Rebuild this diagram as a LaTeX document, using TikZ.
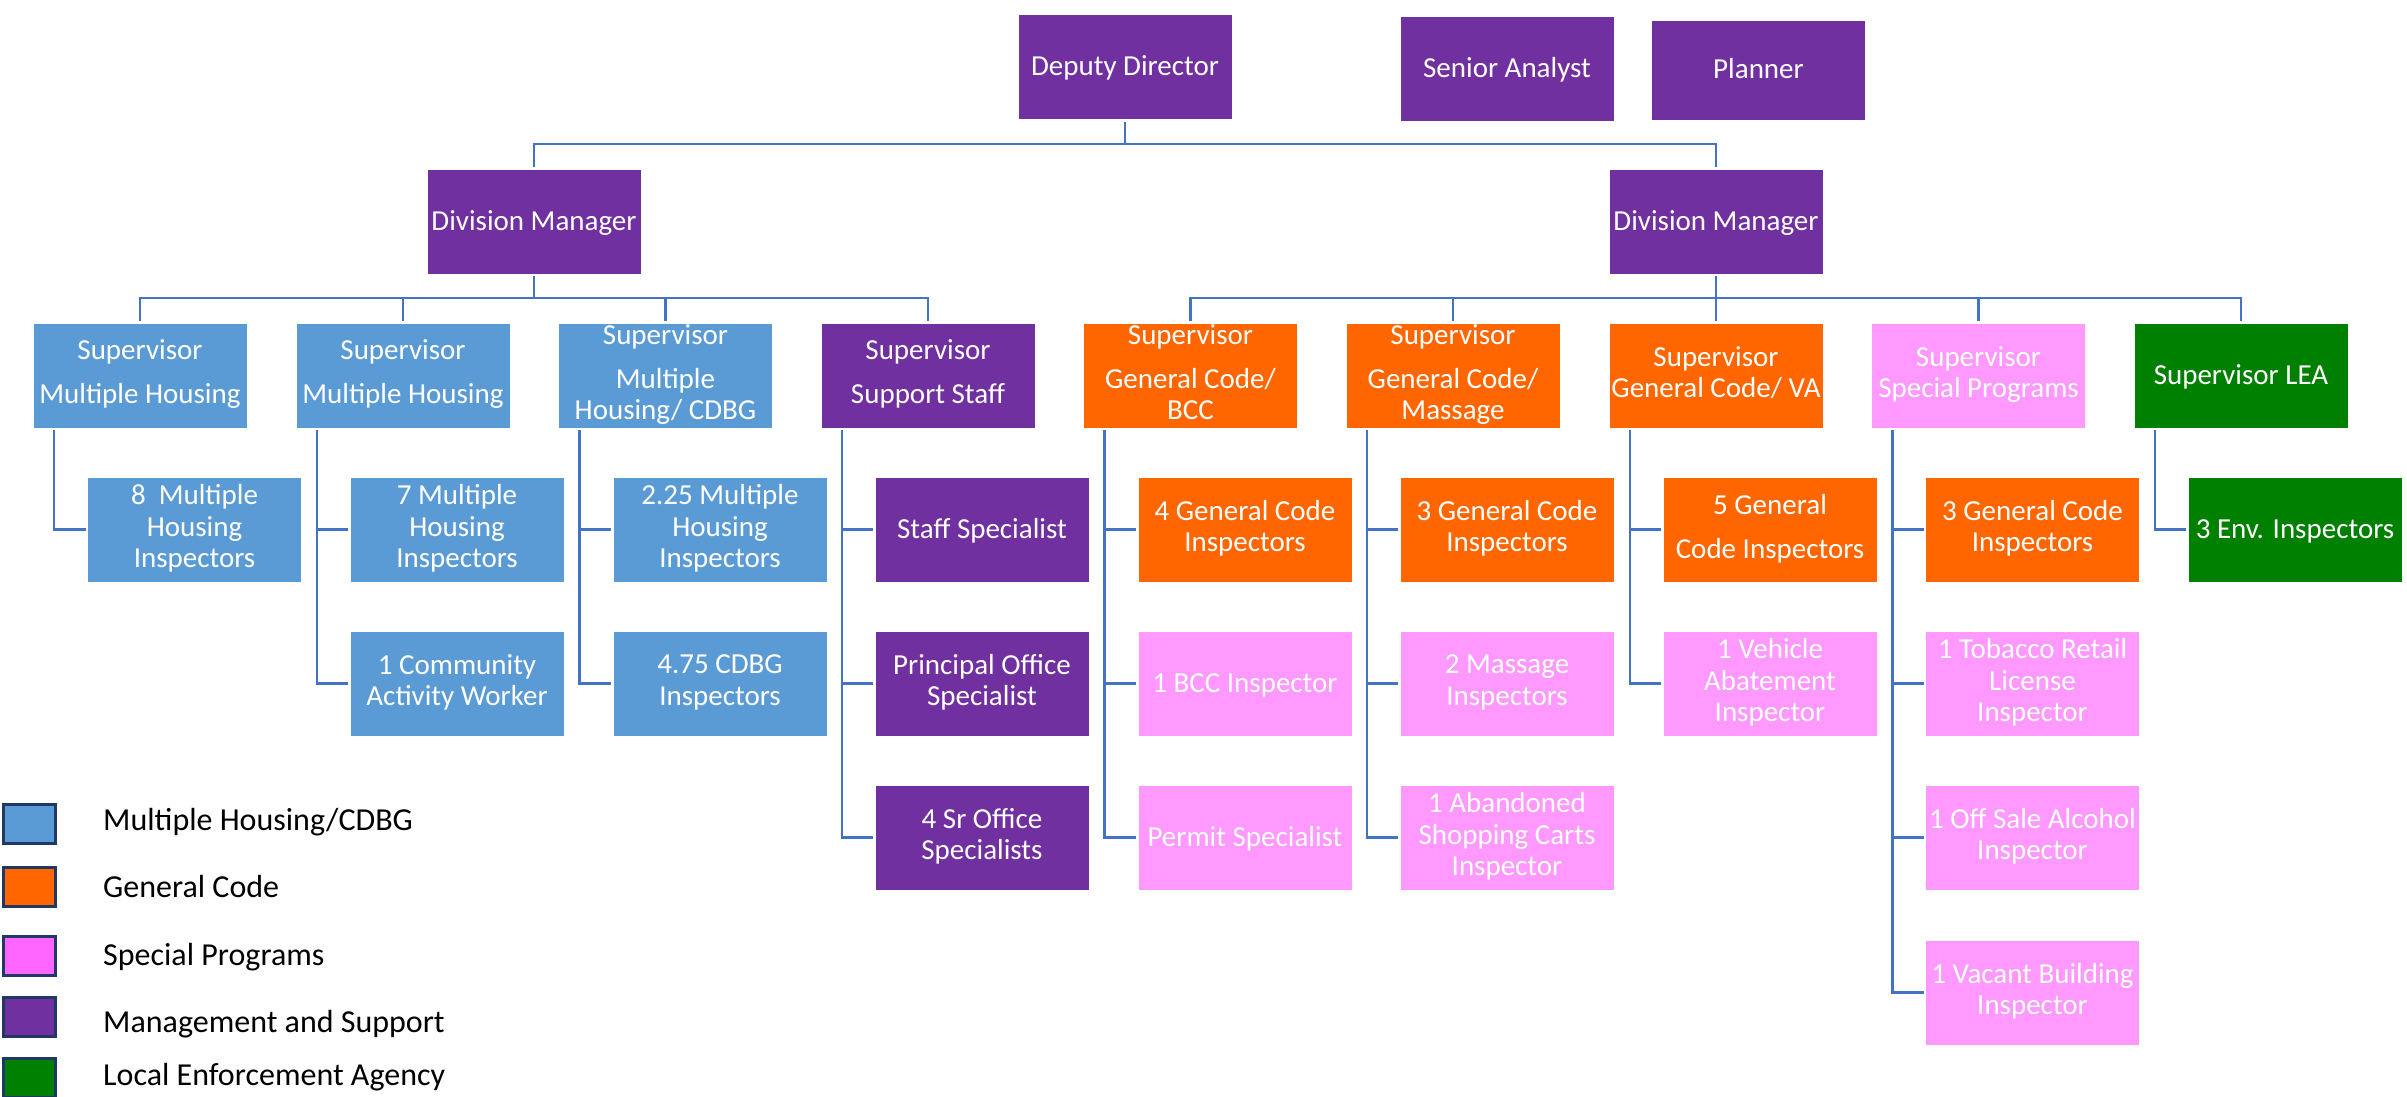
\documentclass[tikz,border=0pt]{standalone}
\usepackage{fontspec}
\setmainfont{Carlito}
\definecolor{mhblue}{HTML}{5B9BD5}
\definecolor{gcorange}{HTML}{FF6600}
\definecolor{sppink}{HTML}{FF99FF}
\definecolor{legpink}{HTML}{FF66FF}
\definecolor{mspurple}{HTML}{7030A0}
\definecolor{leagreen}{HTML}{008000}
\definecolor{connblue}{HTML}{4472C4}
\definecolor{legnavy}{HTML}{1F3864}
\newcommand\myboxfont{\fontsize{29}{31.5}\selectfont}
\newcommand\mylegfont{\fontsize{32}{36}\selectfont}
\tikzset{
  orgbox/.style={rectangle, minimum width=214pt, minimum height=105pt, inner sep=0pt,
    outer sep=2pt, align=center, text=white, font=\myboxfont, draw=white, line width=1pt,
    execute at begin node={\rule{0pt}{24.5pt}},
    execute at end node={\rule[-7pt]{0pt}{7pt}}},
  mh/.style={orgbox, fill=mhblue},
  gc/.style={orgbox, fill=gcorange},
  sp/.style={orgbox, fill=sppink},
  ms/.style={orgbox, fill=mspurple},
  lea/.style={orgbox, fill=leagreen},
  conn/.style={draw=connblue, line width=2.5pt},
  legsq/.style={rectangle, draw=legnavy, line width=3pt, minimum width=52pt, minimum height=39pt, inner sep=0pt},
  legtxt/.style={anchor=base west, font=\mylegfont, text=black, inner sep=0pt}
}
\begin{document}
\begin{tikzpicture}[x=1pt,y=-1pt]
\useasboundingbox (0,0) rectangle (2407,1096);
% top
\node[ms] (DD) at (1125,67) {Deputy Director};
\node[ms] (SA) at (1507,69) {Senior Analyst};
\node[ms, minimum height=100pt] (PL) at (1758.5,70) {Planner};
\node[ms] (DML) at (534,221.5) {Division Manager};
\node[ms] (DMR) at (1716,221.5) {Division Manager};
% supervisors
\node[mh] (S1) at (140,375.5) {Supervisor\\[12.5pt]Multiple Housing};
\node[mh] (S2) at (403,375.5) {Supervisor\\[12.5pt]Multiple Housing};
\node[mh] (S3) at (665.5,375.5) {Supervisor\\[12.5pt]Multiple\\Housing/ CDBG};
\node[ms] (S4) at (928,375.5) {Supervisor\\[12.5pt]Support Staff};
\node[gc] (S5) at (1190.5,375.5) {Supervisor\\[12.5pt]General Code/\\BCC};
\node[gc] (S6) at (1453,375.5) {Supervisor\\[12.5pt]General Code/\\Massage};
\node[gc] (S7) at (1716,375.5) {Supervisor\\General Code/ VA};
\node[sp] (S8) at (1978.5,375.5) {Supervisor\\Special Programs};
\node[lea] (S9) at (2241,375.5) {Supervisor LEA};
% children
\node[mh] (c11) at (194.5,529.5) {8\ \ Multiple\\Housing\\Inspectors};
\node[mh] (c21) at (457,529.5) {7 Multiple\\Housing\\Inspectors};
\node[mh] (c22) at (457,683.5) {1 Community\\Activity Worker};
\node[mh] (c31) at (720,529.5) {2.25 Multiple\\Housing\\Inspectors};
\node[mh] (c32) at (720,683.5) {4.75 CDBG\\Inspectors};
\node[ms] (c41) at (982,529.5) {Staff Specialist};
\node[ms] (c42) at (982,683.5) {Principal Office\\Specialist};
\node[ms] (c43) at (982,837.5) {4 Sr Office\\Specialists};
\node[gc] (c51) at (1245,529.5) {4 General Code\\Inspectors};
\node[sp] (c52) at (1245,683.5) {1 BCC Inspector};
\node[sp] (c53) at (1245,837.5) {Permit Specialist};
\node[gc] (c61) at (1507,529.5) {3 General Code\\Inspectors};
\node[sp] (c62) at (1507,683.5) {2 Massage\\Inspectors};
\node[sp] (c63) at (1507,837.5) {1 Abandoned\\Shopping Carts\\Inspector};
\node[gc] (c71) at (1770,529.5) {5 General\\[12.5pt]Code Inspectors};
\node[sp] (c72) at (1770,683.5) {1 Vehicle\\Abatement\\Inspector};
\node[gc] (c81) at (2032.5,529.5) {3 General Code\\Inspectors};
\node[sp] (c82) at (2032.5,683.5) {1 Tobacco Retail\\License\\Inspector};
\node[sp] (c83) at (2032.5,837.5) {1 Off Sale Alcohol\\Inspector};
\node[sp] (c84) at (2032.5,992.5) {1 Vacant Building\\Inspector};
\node[lea] (c91) at (2295,529.5) {3 Env. Inspectors};
% connectors top
\coordinate (t0) at (1125,144);
\coordinate (bL) at (534,298);
\coordinate (bR) at (1716,298);
\draw[conn] (DD.south) -- (t0);
\draw[conn] (DML.north) |- (t0) -| (DMR.north);
\draw[conn] (DML.south) -- (bL);
\draw[conn] (DMR.south) -- (bR);
\foreach \s in {S1,S2,S3,S4} \draw[conn] (\s.north) |- (bL);
\foreach \s in {S5,S6,S7,S8,S9} \draw[conn] (\s.north) |- (bR);
% branch tops
\foreach \i in {1,...,9} \coordinate (k\i) at ([xshift=23pt]S\i.south west);
\draw[conn] (k1) |- (c11.west);
\draw[conn] (k2) |- (c22.west);
\draw[conn] (k2 |- c21.west) -- (c21.west);
\draw[conn] (k3) |- (c32.west);
\draw[conn] (k3 |- c31.west) -- (c31.west);
\draw[conn] (k4) |- (c43.west);
\draw[conn] (k4 |- c41.west) -- (c41.west);
\draw[conn] (k4 |- c42.west) -- (c42.west);
\draw[conn] (k5) |- (c53.west);
\draw[conn] (k5 |- c51.west) -- (c51.west);
\draw[conn] (k5 |- c52.west) -- (c52.west);
\draw[conn] (k6) |- (c63.west);
\draw[conn] (k6 |- c61.west) -- (c61.west);
\draw[conn] (k6 |- c62.west) -- (c62.west);
\draw[conn] (k7) |- (c72.west);
\draw[conn] (k7 |- c71.west) -- (c71.west);
\draw[conn] (k8) |- (c84.west);
\draw[conn] (k8 |- c81.west) -- (c81.west);
\draw[conn] (k8 |- c82.west) -- (c82.west);
\draw[conn] (k8 |- c83.west) -- (c83.west);
\draw[conn] (k9) |- (c91.west);
% legend
\node[legsq, fill=mhblue] (L1) at (29.5,823.5) {};
\node[legsq, fill=gcorange] (L2) at (29.5,887) {};
\node[legsq, fill=legpink] (L3) at (29.5,956) {};
\node[legsq, fill=mspurple] (L4) at (29.5,1017) {};
\node[legsq, fill=leagreen] (L5) at (29.5,1077.5) {};
\node[legtxt] (T1) at (103,830) {Multiple Housing/CDBG};
\node[legtxt] (T2) at (103,897) {General Code};
\node[legtxt] (T3) at (103,965) {Special Programs};
\node[legtxt] (T4) at (103,1032) {Management and Support};
\node[legtxt] (T5) at (103,1085) {Local Enforcement Agency};
\end{tikzpicture}
\end{document}
